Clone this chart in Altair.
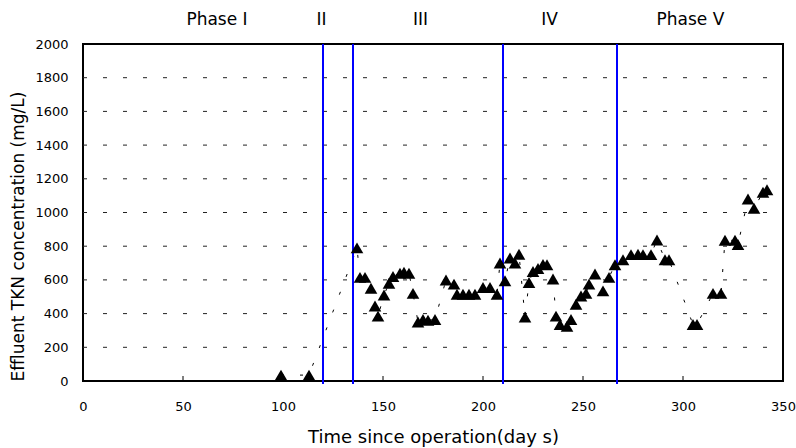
import altair as alt
import pandas as pd

# Effluent TKN data (days, mg/L)
days = [99, 113, 137, 138.5, 141, 144, 146, 147.5, 150.5, 153, 155, 158.5, 160.5, 163,
        165, 167.5, 170, 172.5, 176, 181.5, 185.5, 187, 190, 193, 196, 200, 203.5, 207,
        208.5, 211, 213.5, 216, 218, 221, 223, 225, 227.5, 230, 232, 235, 236.5, 238.5,
        242, 244, 246.5, 249, 251.5, 253, 256, 260, 263, 266, 270, 274, 277.5, 280, 284,
        287, 291, 293, 305, 307, 315, 319, 321, 326, 327.5, 332.5, 335.5, 340, 342]
tkn = [35, 35, 790, 615, 615, 550, 445, 385, 510, 580, 620, 640, 645, 640,
       520, 350, 365, 360, 365, 600, 575, 515, 515, 515, 515, 555, 555, 515,
       700, 595, 730, 700, 752, 380, 585, 650, 668, 692, 690, 605, 385, 335,
       325, 365, 455, 505, 520, 575, 635, 535, 615, 690, 720, 750, 752, 750, 750,
       837, 720, 720, 335, 335, 520, 520, 835, 835, 810, 1080, 1025, 1120, 1135]

phase_bounds = [120, 135, 210, 267]
phase_labels = ["Phase I", "II", "III", "IV", "Phase V"]
phase_label_days = [67, 119.3, 168.8, 233.3, 303.7]

x_ticks = [0, 50, 100, 150, 200, 250, 300, 350]
y_ticks = [0, 200, 400, 600, 800, 1000, 1200, 1400, 1600, 1800, 2000]
grid_vals = [200, 400, 600, 800, 1000, 1200, 1400, 1600, 1800]

df = pd.DataFrame({"day": days, "tkn": tkn})
df_bounds = pd.DataFrame({"day": phase_bounds})
df_labels = pd.DataFrame({"day": phase_label_days, "label": phase_labels})
df_xt = pd.DataFrame({"day": x_ticks})
df_grid = pd.DataFrame({"v": grid_vals})

W, H = 700, 337
FONT = "DejaVu Sans"

xs = alt.Scale(domain=[0, 350], nice=False)
ys = alt.Scale(domain=[0, 2000], nice=False)

x_axis = alt.Axis(values=x_ticks, grid=False, ticks=False, tickSize=0, domain=False,
                  labelPadding=19, labelFontSize=13, labelFont=FONT, labelColor="#000",
                  labelOverlap=False, format="d",
                  title="Time since operation(day s)", titleFontSize=18, titleFont=FONT,
                  titleFontWeight="normal", titleColor="#000", titleY=56,
                  titleBaseline="middle", labelFlush=False)
y_axis = alt.Axis(values=y_ticks, grid=False, ticks=False, tickSize=0, domain=False,
                  labelPadding=15, labelFontSize=13, labelFont=FONT, labelColor="#000",
                  labelOverlap=False, format="d",
                  title="Effluent TKN concentration (mg/L)", titleFontSize=17,
                  titleFont=FONT, titleFontWeight="normal", titleColor="#000",
                  titleX=-65, titleY=192, titleAngle=270, titleAlign="center",
                  titleBaseline="middle", labelFlush=False)


def X(field):
    return alt.X(field, scale=xs, axis=x_axis)


def Y(field):
    return alt.Y(field, scale=ys, axis=y_axis)


grid = alt.Chart(df_grid).mark_rule(color="#222", strokeWidth=1, strokeDash=[4, 16]).encode(
    y=Y("v:Q"), x=alt.value(0), x2=alt.value(W))

ticks = alt.Chart(df_xt).mark_rule(color="#000", strokeWidth=1).encode(
    x=X("day:Q"), y=alt.value(H), y2=alt.value(H - 5))

bounds = alt.Chart(df_bounds).mark_rule(color="#0000ff", strokeWidth=2).encode(
    x=X("day:Q"), y=alt.value(0), y2=alt.value(H + 3))

line = alt.Chart(df).mark_line(color="#000", strokeWidth=1, strokeDash=[3, 16]).encode(
    x=X("day:Q"), y=Y("tkn:Q"), order="day:Q")

pts = alt.Chart(df).mark_point(shape="triangle-up", filled=True, color="#000",
                               opacity=1, size=160).encode(
    x=X("day:Q"), y=Y("tkn:Q"))

labels = alt.Chart(df_labels).mark_text(font=FONT, fontSize=17, color="#000",
                                        baseline="middle", align="center").encode(
    x=X("day:Q"), y=alt.value(-24), text="label:N")

chart = alt.layer(grid, ticks, line, bounds, pts, labels).properties(
    width=W, height=H,
    autosize=alt.AutoSizeParams(type="none"),
    padding={"left": 83, "top": 44, "right": 13, "bottom": 67},
    background="white",
).configure_view(stroke="#000", strokeWidth=2)

chart.save("out.html", embed_options={"renderer": "svg", "actions": False})
